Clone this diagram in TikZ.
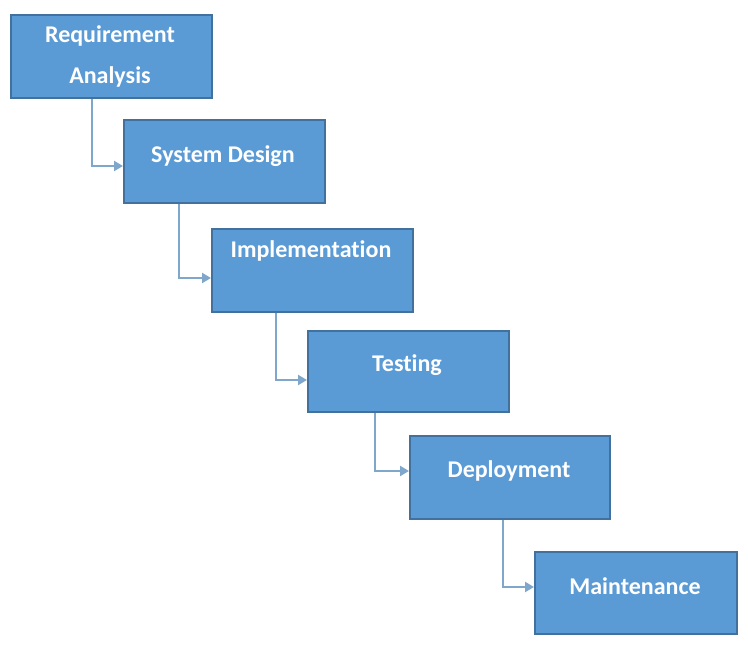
\documentclass[tikz,border=0pt]{standalone}
\usepackage{fontspec}
\setmainfont[Ligatures=NoCommon]{Carlito}
\usetikzlibrary{arrows.meta}
\definecolor{boxfill}{HTML}{5B9BD5}
\definecolor{boxline}{HTML}{41719C}
\definecolor{connc}{HTML}{7FA6CB}
\tikzset{
  stagebox/.style={draw=boxline, line width=1.5pt, fill=boxfill, minimum width=201pt, minimum height=83pt, inner sep=0pt, anchor=north west},
  stagetext/.style={text=white, font=\bfseries\fontsize{24}{28}\selectfont, inner sep=0pt},
  conn/.style={draw=connc, line width=2.2pt, -{Triangle[width=10pt,length=9pt]}}
}
\begin{document}
\begin{tikzpicture}[x=1pt,y=-1pt]
\useasboundingbox (0,0) rectangle (748,649);
\fill[white] (0,0) rectangle (748,649);
\node[stagebox] (b1) at (10,14) {};
\node[stagebox] (b2) at (123,119) {};
\node[stagebox] (b3) at (211,228) {};
\node[stagebox, minimum height=81pt] (b4) at (307,330) {};
\node[stagebox, minimum width=200pt] (b5) at (409,435) {};
\node[stagebox, minimum width=202pt, minimum height=82pt] (b6) at (534,551) {};
\node[stagetext] (t1a) at (110,36) {Requirement};
\node[stagetext] (t1b) at (110,77) {Analysis};
\node[stagetext] (t2) at (223,156) {System Design};
\node[stagetext] (t3) at (311,251) {Implementation};
\node[stagetext] (t4) at (407,365) {Testing};
\node[stagetext] (t5) at (509,471) {Deployment};
\node[stagetext] (t6) at (635,586) {Maintenance};
\coordinate (c1) at (92,166);
\coordinate (c2) at (179,278);
\coordinate (c3) at (276,380);
\coordinate (c4) at (375,471);
\coordinate (c5) at (503,587);
\draw[conn] (b1.south -| c1) |- (b2.west |- c1);
\draw[conn] (b2.south -| c2) |- (b3.west |- c2);
\draw[conn] (b3.south -| c3) |- (b4.west |- c3);
\draw[conn] (b4.south -| c4) |- (b5.west |- c4);
\draw[conn] (b5.south -| c5) |- (b6.west |- c5);
\end{tikzpicture}
\end{document}
